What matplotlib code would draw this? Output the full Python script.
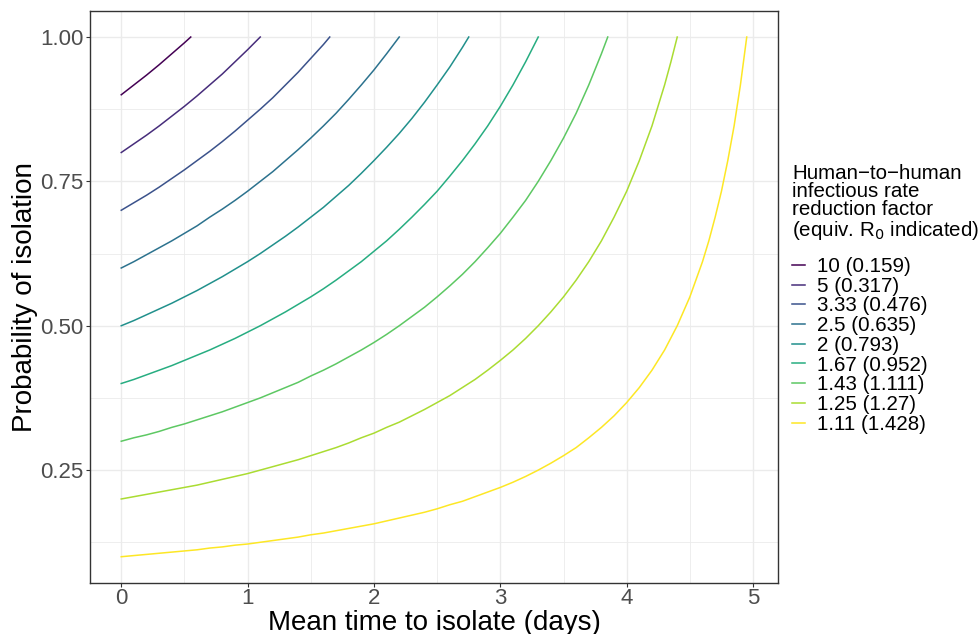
import matplotlib
matplotlib.use("Agg")
from matplotlib import pyplot as plt

plt.rcParams['font.family'] = ['Liberation Sans', 'DejaVu Sans']

# values (x = mean time to isolate, y = probability)
reduction_labels = ['10 (0.159)', '5 (0.317)', '3.33 (0.476)', '2.5 (0.635)', '2 (0.793)',
                    '1.67 (0.952)', '1.43 (1.111)', '1.25 (1.27)', '1.11 (1.428)']
line_colors = ['#440154', '#472D7B', '#3B528B', '#2C728E', '#21908C',
               '#27AD81', '#5DC863', '#AADC32', '#FDE725']

x_10 = [0.0, 0.1, 0.2, 0.3, 0.4, 0.5, 0.55]
y_10 = [0.900, 0.917, 0.934, 0.952, 0.971, 0.990, 1.000]

x_5 = [0.0, 0.1, 0.2, 0.3, 0.4, 0.5, 0.6, 0.7, 0.8, 0.9, 1.0, 1.1]
y_5 = [0.800, 0.815, 0.830, 0.846, 0.863, 0.880, 0.898, 0.917, 0.936, 0.957, 0.978, 1.000]

x_333 = [0.0, 0.1, 0.2, 0.3, 0.4, 0.5, 0.6, 0.7, 0.8, 0.9, 1.0, 1.1, 1.2, 1.3, 1.4, 1.5,
         1.6, 1.65]
y_333 = [0.700, 0.713, 0.726, 0.740, 0.755, 0.770, 0.786, 0.802, 0.819, 0.837, 0.856,
         0.875, 0.895, 0.917, 0.939, 0.963, 0.987, 1.000]

x_25 = [0.0, 0.1, 0.2, 0.3, 0.4, 0.5, 0.6, 0.7, 0.8, 0.9, 1.0, 1.1, 1.2, 1.3, 1.4, 1.5,
        1.6, 1.7, 1.8, 1.9, 2.0, 2.1, 2.2]
y_25 = [0.600, 0.611, 0.623, 0.635, 0.647, 0.660, 0.673, 0.688, 0.702, 0.717, 0.733,
        0.750, 0.767, 0.786, 0.805, 0.825, 0.846, 0.868, 0.892, 0.917, 0.943, 0.971, 1.000]

x_2 = [0.0, 0.1, 0.2, 0.3, 0.4, 0.5, 0.6, 0.7, 0.8, 0.9, 1.0, 1.1, 1.2, 1.3, 1.4, 1.5,
       1.6, 1.7, 1.8, 1.9, 2.0, 2.1, 2.2, 2.3, 2.4, 2.5, 2.6, 2.7, 2.75]
y_2 = [0.500, 0.509, 0.519, 0.529, 0.539, 0.550, 0.561, 0.573, 0.585, 0.598, 0.611,
       0.625, 0.640, 0.655, 0.671, 0.688, 0.705, 0.724, 0.743, 0.764, 0.786, 0.809,
       0.833, 0.859, 0.887, 0.917, 0.948, 0.982, 1.000]

x_167 = [0.0, 0.1, 0.2, 0.3, 0.4, 0.5, 0.6, 0.7, 0.8, 0.9, 1.0, 1.1, 1.2, 1.3, 1.4, 1.5,
         1.6, 1.7, 1.8, 1.9, 2.0, 2.1, 2.2, 2.3, 2.4, 2.5, 2.6, 2.7, 2.8, 2.9, 3.0, 3.1,
         3.2, 3.3]
y_167 = [0.400, 0.407, 0.415, 0.423, 0.431, 0.440, 0.449, 0.458, 0.468, 0.478, 0.489,
         0.500, 0.512, 0.524, 0.537, 0.550, 0.564, 0.579, 0.595, 0.611, 0.629, 0.647,
         0.667, 0.688, 0.710, 0.733, 0.759, 0.786, 0.815, 0.846, 0.880, 0.917, 0.957,
         1.000]

x_143 = [0.0, 0.1, 0.2, 0.3, 0.4, 0.5, 0.6, 0.7, 0.8, 0.9, 1.0, 1.1, 1.2, 1.3, 1.4, 1.5,
         1.6, 1.7, 1.8, 1.9, 2.0, 2.1, 2.2, 2.3, 2.4, 2.5, 2.6, 2.7, 2.8, 2.9, 3.0, 3.1,
         3.2, 3.3, 3.4, 3.5, 3.6, 3.7, 3.8, 3.85]
y_143 = [0.300, 0.306, 0.311, 0.317, 0.324, 0.330, 0.337, 0.344, 0.351, 0.359, 0.367,
         0.375, 0.384, 0.393, 0.402, 0.413, 0.423, 0.434, 0.446, 0.458, 0.471, 0.485,
         0.500, 0.516, 0.532, 0.550, 0.569, 0.589, 0.611, 0.635, 0.660, 0.688, 0.717,
         0.750, 0.786, 0.825, 0.868, 0.917, 0.971, 1.000]

x_125 = [0.0, 0.1, 0.2, 0.3, 0.4, 0.5, 0.6, 0.7, 0.8, 0.9, 1.0, 1.1, 1.2, 1.3, 1.4, 1.5,
         1.6, 1.7, 1.8, 1.9, 2.0, 2.1, 2.2, 2.3, 2.4, 2.5, 2.6, 2.7, 2.8, 2.9, 3.0, 3.1,
         3.2, 3.3, 3.4, 3.5, 3.6, 3.7, 3.8, 3.9, 4.0, 4.1, 4.2, 4.3, 4.35, 4.4]
y_125 = [0.200, 0.204, 0.208, 0.212, 0.216, 0.220, 0.224, 0.229, 0.234, 0.239, 0.244,
         0.250, 0.256, 0.262, 0.268, 0.275, 0.282, 0.289, 0.297, 0.306, 0.314, 0.324,
         0.333, 0.344, 0.355, 0.367, 0.379, 0.393, 0.407, 0.423, 0.440, 0.458, 0.478,
         0.500, 0.524, 0.550, 0.579, 0.611, 0.647, 0.688, 0.733, 0.786, 0.846, 0.917,
         0.957, 1.000]

x_111 = [0.0, 0.1, 0.2, 0.3, 0.4, 0.5, 0.6, 0.7, 0.8, 0.9, 1.0, 1.1, 1.2, 1.3, 1.4, 1.5,
         1.6, 1.7, 1.8, 1.9, 2.0, 2.1, 2.2, 2.3, 2.4, 2.5, 2.6, 2.7, 2.8, 2.9, 3.0, 3.1,
         3.2, 3.3, 3.4, 3.5, 3.6, 3.7, 3.8, 3.9, 4.0, 4.1, 4.2, 4.3, 4.4, 4.5, 4.6, 4.65,
         4.7, 4.75, 4.8, 4.85, 4.9, 4.95]
y_111 = [0.100, 0.102, 0.104, 0.106, 0.108, 0.110, 0.112, 0.115, 0.117, 0.120, 0.122,
         0.125, 0.128, 0.131, 0.134, 0.138, 0.141, 0.145, 0.149, 0.153, 0.157, 0.162,
         0.167, 0.172, 0.177, 0.183, 0.190, 0.196, 0.204, 0.212, 0.220, 0.229, 0.239,
         0.250, 0.262, 0.275, 0.289, 0.306, 0.324, 0.344, 0.367, 0.393, 0.423, 0.458,
         0.500, 0.550, 0.611, 0.647, 0.688, 0.733, 0.786, 0.846, 0.917, 1.000]

curves = [(x_10, y_10), (x_5, y_5), (x_333, y_333), (x_25, y_25), (x_2, y_2),
          (x_167, y_167), (x_143, y_143), (x_125, y_125), (x_111, y_111)]

fig = plt.figure(figsize=(9.79, 6.34), dpi=100)
ax = fig.add_axes([0.0919, 0.0809, 0.7028, 0.9017])

for (xs, ys), col, lab in zip(curves, line_colors, reduction_labels):
    ax.plot(xs, ys, color=col, lw=1.1, label=lab)

ax.set_xlim(-0.2475, 5.1975)
ax.set_ylim(0.055, 1.045)
ax.set_xticks([0, 1, 2, 3, 4, 5])
ax.set_xticks([0.5, 1.5, 2.5, 3.5, 4.5], minor=True)
ax.set_yticks([0.25, 0.5, 0.75, 1.0])
ax.set_yticklabels(['0.25', '0.50', '0.75', '1.00'])
ax.set_yticks([0.125, 0.375, 0.625, 0.875], minor=True)

ax.grid(which='major', color='#EBEBEB', lw=1.0)
ax.grid(which='minor', color='#EBEBEB', lw=0.6)
ax.set_axisbelow(True)
for sp in ax.spines.values():
    sp.set_color('#333333')
    sp.set_linewidth(1.0)
ax.tick_params(which='major', length=3, width=0.8, color='#333333',
               labelsize=16, labelcolor='#4D4D4D')
ax.tick_params(axis='x', pad=1)
ax.tick_params(axis='y', pad=1.5)
ax.tick_params(which='minor', length=0)

ax.set_xlabel('Mean time to isolate (days)', fontsize=20, va='baseline')
ax.xaxis.set_label_coords(0.4433, 0.0063, transform=fig.transFigure)
ax.set_ylabel('Probability of isolation', fontsize=20)
ax.yaxis.set_label_coords(0.0385, 0.5317, transform=fig.transFigure)

fig.text(0.809, 1 - 164 / 634,
         'Human\u2212to\u2212human\ninfectious rate\nreduction factor\n(equiv. R$_0$ indicated)',
         fontsize=14.8, va='top', ha='left', linespacing=0.95)

ax.legend(loc='upper left', bbox_to_anchor=(0.809, 1 - 257 / 634),
          bbox_transform=fig.transFigure, frameon=False, fontsize=14.8,
          handlelength=0.65, handletextpad=0.55, labelspacing=0.035,
          borderpad=0, borderaxespad=0)

fig.savefig('out.png', dpi=100)
